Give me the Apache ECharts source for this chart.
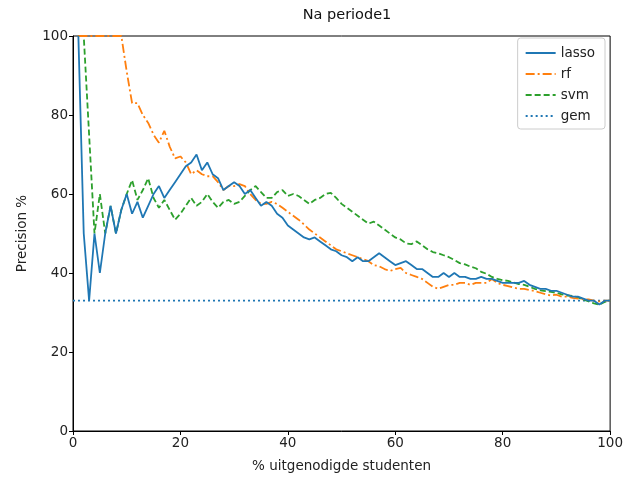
<!DOCTYPE html>
<html>
<head>
<meta charset="utf-8">
<script src="https://cdn.jsdelivr.net/npm/echarts@6/dist/echarts.min.js"></script>
<style>
  html, body { margin: 0; padding: 0; background: #fff; }
  #chart { width: 626px; height: 478px; }
</style>
</head>
<body>
<div id="chart"></div>
<script>
// % uitgenodigde studenten (x)
const pct = [
  1, 2, 3, 4, 5, 6, 7, 8, 9, 10, 11, 12, 13, 14, 15, 16, 17, 18, 19, 20,
  21, 22, 23, 24, 25, 26, 27, 28, 29, 30, 31, 32, 33, 34, 35, 36, 37, 38, 39, 40,
  41, 42, 43, 44, 45, 46, 47, 48, 49, 50, 51, 52, 53, 54, 55, 56, 57, 58, 59, 60,
  61, 62, 63, 64, 65, 66, 67, 68, 69, 70, 71, 72, 73, 74, 75, 76, 77, 78, 79, 80,
  81, 82, 83, 84, 85, 86, 87, 88, 89, 90, 91, 92, 93, 94, 95, 96, 97, 98, 99, 100
];

const lasso = [
  100, 50, 33, 50, 40, 50, 57, 50, 56, 60, 55, 58, 54, 57, 60, 62, 59, 61, 63, 65,
  67, 68, 70, 66, 68, 65, 64, 61, 62, 63, 62, 60, 61, 59, 57, 58, 57, 55, 54, 52,
  51, 50, 49, 48.5, 49, 48, 47, 46, 45.5, 44.5, 44, 43, 44, 43, 43, 44, 45, 44, 43, 42,
  42.5, 43, 42, 41, 41, 40, 39, 39, 40, 39, 40, 39, 39, 38.5, 38.5, 39, 38.5, 38.5, 38, 37.5,
  37.5, 37.5, 37.5, 38, 37, 36.5, 36, 36, 35.5, 35.5, 35, 34.5, 34, 34, 33.5, 33, 33, 32, 33, 33
];

const rf = [
  100, 100, 100, 100, 100, 100, 100, 100, 100, 91, 83, 83, 80, 78, 75, 73, 76, 72, 69, 69.5,
  68, 65, 66, 65, 64.5, 64.5, 63, 61, 62, 62, 62.5, 62, 60, 58.5, 57.5, 57.5, 58, 57.5, 56.5, 55.5,
  54.5, 53.5, 52.3, 51, 50, 49, 48, 47, 46, 45.5, 45, 44.5, 44, 43.5, 43, 42, 41.7, 41, 40.5, 41,
  41.3, 40, 39.5, 39, 38.5, 37.5, 36.5, 36, 36.5, 37, 37, 37.5, 37.5, 37, 37.5, 37.5, 37.5, 38.5, 37.5, 37,
  36.7, 36.3, 36, 36, 35.7, 35.4, 35, 34.6, 34.3, 34.5, 34, 34, 33.7, 33.5, 33.3, 33.3, 33, 32.8, 33, 33
];

const svm = [
  100, 100, 75, 50, 60, 50, 57, 50, 56, 60, 63.5, 58.5, 61, 64, 59, 56.5, 58.5, 56, 53.5, 55,
  57, 59, 57, 58, 60, 58, 56.5, 58, 58.5, 57.5, 58, 59.5, 61, 62, 60.5, 59, 59, 60.5, 61, 59.5,
  60, 59.5, 58.5, 57.5, 58.5, 59, 60, 60.3, 59, 57.5, 56.5, 55.5, 54.5, 53.5, 52.5, 53, 52, 51, 50, 49,
  48.5, 47.5, 47.3, 48, 47, 46, 45.3, 45, 44.5, 44, 43.3, 42.5, 42.2, 41.6, 41.2, 40.3, 39.8, 39, 38.5, 38.2,
  38, 37.6, 37.2, 37, 36.5, 36, 35.6, 35.4, 35.2, 35, 34.6, 34.3, 34.2, 33.8, 33.3, 32.8, 32.3, 32, 32.7, 33
];

// gemiddelde (baseline)
const gemX = [0, 100];
const gem = [33, 33];

const font = 'DejaVu Sans';

function pairs(xs, ys) {
  return xs.map((x, i) => [x, ys[i]]);
}

const chart = echarts.init(document.getElementById('chart'), null, { renderer: 'canvas' });

const axisCommon = {
  type: 'value',
  min: 0,
  max: 100,
  interval: 20,
  splitLine: { show: false },
  axisLine: { show: true, onZero: false, lineStyle: { color: '#000', width: 1 } },
  axisTick: { show: true, inside: false, length: 4, lineStyle: { color: '#000' } },
  axisLabel: { color: '#222', fontFamily: font, fontSize: 13.5, margin: 5 },
  nameTextStyle: { color: '#222', fontFamily: font, fontSize: 13.5 }
};

const option = {
  animation: false,
  backgroundColor: '#fff',
  title: {
    text: 'Na periode1',
    left: 342,
    textAlign: 'center',
    top: 3,
    textStyle: { fontFamily: font, fontSize: 14.5, fontWeight: 'normal', color: '#111' }
  },
  grid: {
    left: 73,
    right: 14,
    top: 36,
    bottom: 46,
    show: true,
    borderColor: '#000',
    borderWidth: 1
  },
  legend: {
    orient: 'vertical',
    right: 21,
    top: 38,
    itemWidth: 30,
    itemHeight: 12,
    itemGap: 7,
    padding: [8, 10, 6, 7],
    borderColor: '#ccc',
    borderWidth: 1,
    borderRadius: 3,
    backgroundColor: 'rgba(255,255,255,0.8)',
    itemStyle: { color: 'transparent', borderColor: 'transparent', borderWidth: 0 },
    textStyle: { fontFamily: font, fontSize: 13.5, color: '#222' },
    data: ['lasso', 'rf', 'svm', 'gem']
  },
  xAxis: Object.assign({}, axisCommon, {
    name: '% uitgenodigde studenten',
    nameLocation: 'middle',
    nameGap: 28
  }),
  yAxis: Object.assign({}, axisCommon, {
    name: 'Precision %',
    nameLocation: 'middle',
    nameGap: 44
  }),
  series: [
    {
      name: 'lasso',
      type: 'line',
      data: pairs(pct, lasso),
      showSymbol: false,
      symbol: 'none',
      color: '#1f77b4',
      lineStyle: { color: '#1f77b4', width: 1.8, type: 'solid' },
      z: 4
    },
    {
      name: 'rf',
      type: 'line',
      data: pairs(pct, rf),
      showSymbol: false,
      symbol: 'none',
      color: '#ff7f0e',
      lineStyle: { color: '#ff7f0e', width: 1.8, type: [9, 3, 2, 3] },
      z: 3
    },
    {
      name: 'svm',
      type: 'line',
      data: pairs(pct, svm),
      showSymbol: false,
      symbol: 'none',
      color: '#2ca02c',
      lineStyle: { color: '#2ca02c', width: 1.8, type: [6, 3] },
      z: 2
    },
    {
      name: 'gem',
      type: 'line',
      data: pairs(gemX, gem),
      showSymbol: false,
      symbol: 'none',
      color: '#1f77b4',
      lineStyle: { color: '#1f77b4', width: 1.8, type: [2, 3] },
      z: 1
    }
  ]
};

chart.setOption(option);
</script>
</body>
</html>
